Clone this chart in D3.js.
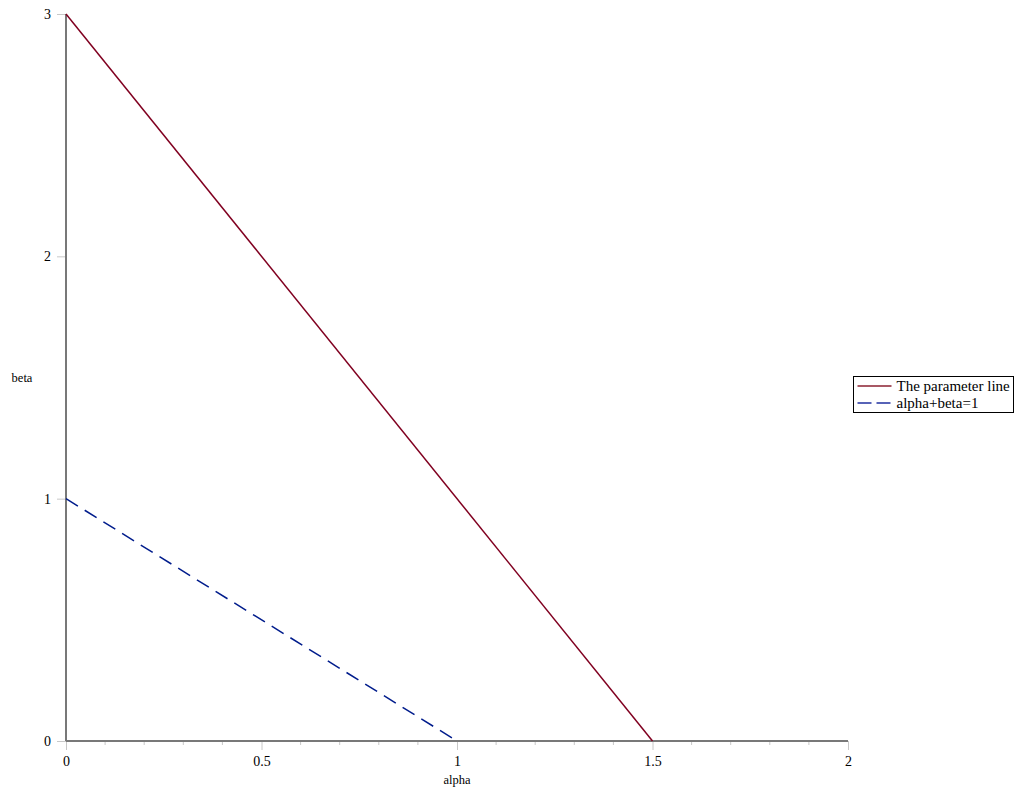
<!DOCTYPE html>
<html>
<head>
<meta charset="utf-8">
<script src="https://cdn.jsdelivr.net/npm/d3@7"></script>
<style>
  body { margin: 0; background: #fff; }
  text { font-family: "Liberation Serif", "Times New Roman", serif; }
</style>
</head>
<body>
<div id="chart"></div>
<script>
// data
var paramAlpha = [0, 1.5];
var paramBeta = [3, 0];
var unitAlpha = [0, 1];
var unitBeta = [1, 0];
var xTicks = [0, 0.5, 1, 1.5, 2];
var yTicks = [0, 1, 2, 3];
var seriesNames = ["The parameter line", "alpha+beta=1"];

var width = 1022, height = 792;

var svg = d3.select("#chart").append("svg")
    .attr("width", width)
    .attr("height", height);

var x = d3.scaleLinear().domain([0, 2]).range([66, 848]);
var y = d3.scaleLinear().domain([0, 3]).range([741, 14]);

// minor ticks on x axis
var minor = d3.range(1, 20).map(function(i) { return i / 10; })
    .filter(function(v) { return Math.abs(v * 2 - Math.round(v * 2)) > 1e-6; });
svg.selectAll(".minor").data(minor).enter().append("line")
    .attr("x1", function(d) { return x(d); })
    .attr("x2", function(d) { return x(d); })
    .attr("y1", y(0)).attr("y2", y(0) + 4)
    .attr("stroke", "#c8c8c8").attr("stroke-width", 1);

// x axis
var xAxis = d3.axisBottom(x)
    .tickValues(xTicks)
    .tickFormat(function(d) { return d3.format("")(d); })
    .tickSize(9)
    .tickPadding(6);

var gx = svg.append("g")
    .attr("transform", "translate(0," + y(0) + ")")
    .call(xAxis);
gx.select(".domain").remove();
gx.selectAll(".tick line").attr("stroke", "#c8c8c8");
gx.selectAll(".tick text").attr("font-size", 14).attr("fill", "#000")
    .style("font-family", "Liberation Serif, serif");

// y axis
var yAxis = d3.axisLeft(y)
    .tickValues(yTicks)
    .tickFormat(d3.format("d"))
    .tickSize(9)
    .tickPadding(6);

var gy = svg.append("g")
    .attr("transform", "translate(" + x(0) + ",0)")
    .call(yAxis);
gy.select(".domain").remove();
gy.selectAll(".tick line").attr("stroke", "#c8c8c8");
gy.selectAll(".tick text").attr("font-size", 14).attr("fill", "#000")
    .style("font-family", "Liberation Serif, serif");

// axis lines
svg.append("line")
    .attr("x1", x(0)).attr("x2", x(2))
    .attr("y1", y(0)).attr("y2", y(0))
    .attr("stroke", "#787878").attr("stroke-width", 2);
svg.append("line")
    .attr("x1", x(0)).attr("x2", x(0))
    .attr("y1", y(0)).attr("y2", y(3))
    .attr("stroke", "#787878").attr("stroke-width", 2);

// axis labels
svg.append("text")
    .attr("x", x(1)).attr("y", 784)
    .attr("text-anchor", "middle")
    .attr("font-size", 12.5)
    .text("alpha");
svg.append("text")
    .attr("x", 22).attr("y", 382)
    .attr("text-anchor", "middle")
    .attr("font-size", 12.5)
    .text("beta");

// lines
var line = d3.line()
    .x(function(d) { return x(d[0]); })
    .y(function(d) { return y(d[1]); });

svg.append("path")
    .datum(d3.zip(unitAlpha, unitBeta))
    .attr("d", line)
    .attr("fill", "none")
    .attr("stroke", "#001c8c")
    .attr("stroke-width", 1.5)
    .attr("stroke-dasharray", "14,8");

svg.append("path")
    .datum(d3.zip(paramAlpha, paramBeta))
    .attr("d", line)
    .attr("fill", "none")
    .attr("stroke", "#800020")
    .attr("stroke-width", 1.5);

// legend
var legend = svg.append("g").attr("transform", "translate(853.5,376.5)");
legend.append("rect")
    .attr("width", 160).attr("height", 36)
    .attr("fill", "#fff").attr("stroke", "#000").attr("stroke-width", 1);

var colors = ["#8b2030", "#2030a0"];
var dashes = [null, "14,5"];
seriesNames.forEach(function(name, i) {
    var yy = 9.5 + i * 17;
    legend.append("line")
        .attr("x1", 4).attr("x2", 38)
        .attr("y1", yy).attr("y2", yy)
        .attr("stroke", colors[i])
        .attr("stroke-width", 1.5)
        .attr("stroke-dasharray", dashes[i]);
    legend.append("text")
        .attr("x", 43).attr("y", yy + 5)
        .attr("font-size", 15)
        .text(name);
});
</script>
</body>
</html>
